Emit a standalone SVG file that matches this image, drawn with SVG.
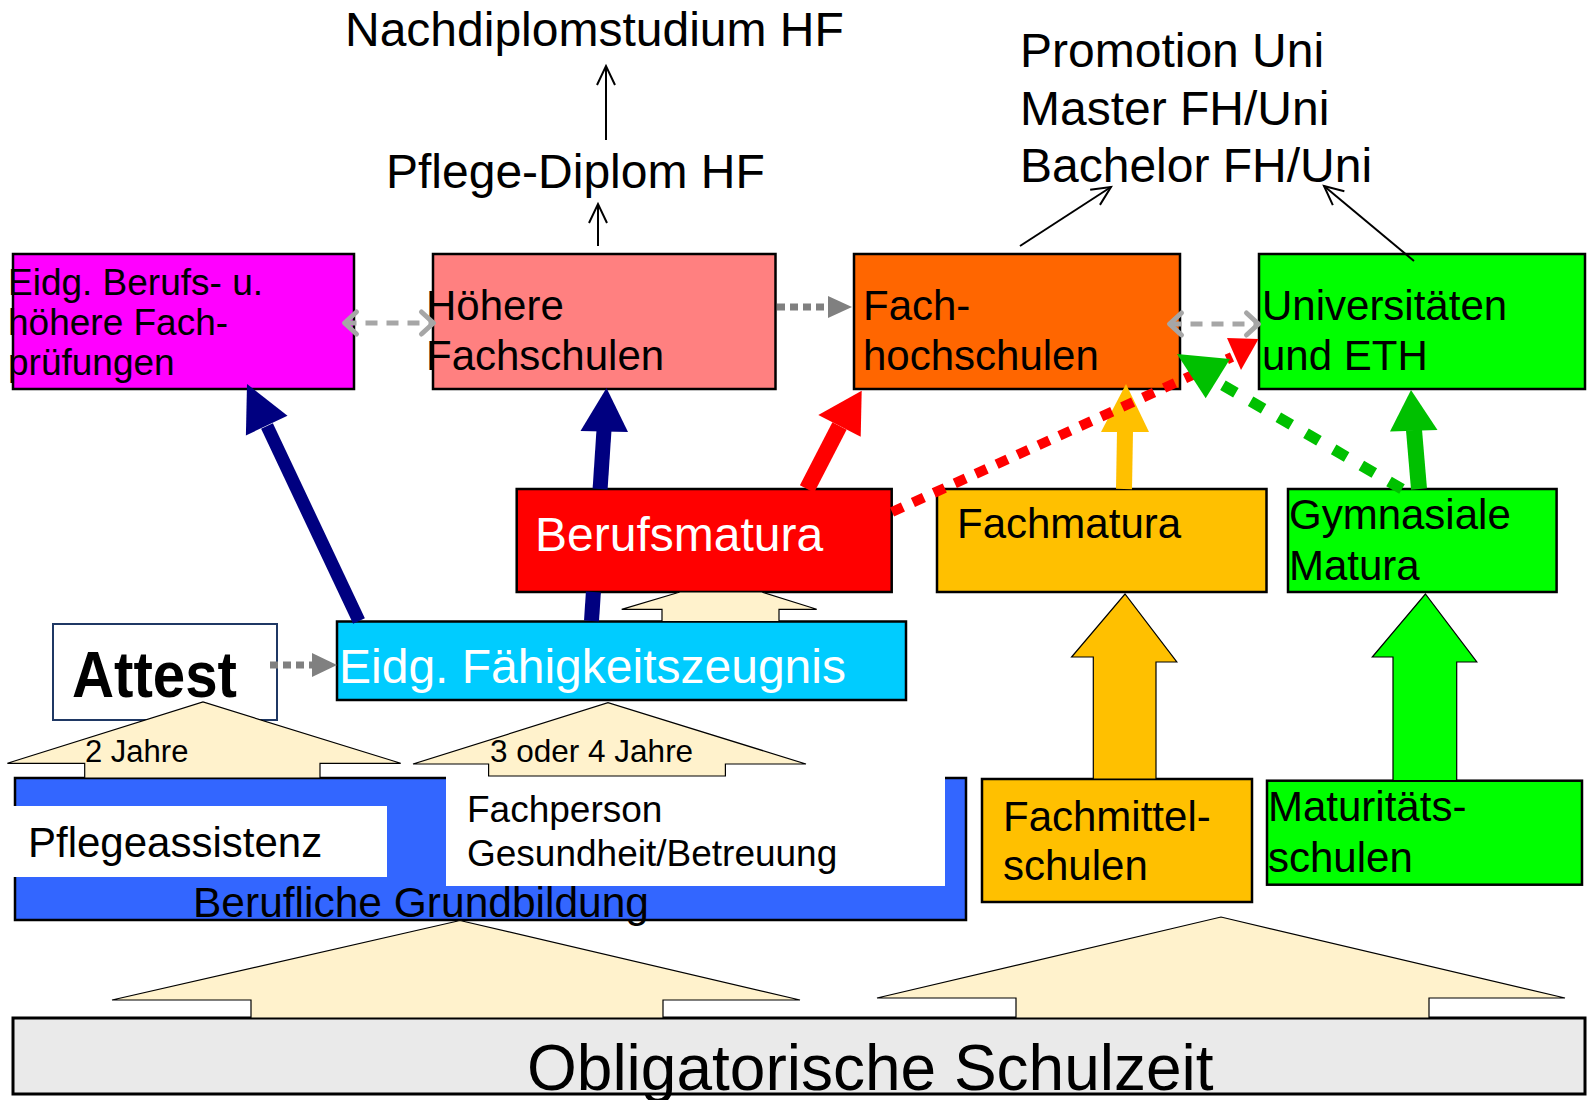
<svg xmlns="http://www.w3.org/2000/svg" width="1595" height="1100" viewBox="0 0 1595 1100">
<style>
text{font-family:"Liberation Sans",Arial,sans-serif;fill:#000}
.box{stroke:#000;stroke-width:2.5}
.cream{fill:#FFF2CC;stroke:#000;stroke-width:1.2}
.blk{stroke:#000;stroke-width:1.2}
.s31{font-size:31px}
.s37{font-size:37px}
.s42{font-size:42px}
.s48{font-size:48px}
.w{fill:#fff}
.thin{stroke:#000;stroke-width:2;fill:none}
.lg{stroke:#A6A6A6;stroke-width:5;stroke-dasharray:12 9;fill:none}
.dg{stroke:#808080;stroke-width:7;stroke-dasharray:8 5;fill:none}
</style>
<defs>
<marker id="open" markerUnits="userSpaceOnUse" markerWidth="30" markerHeight="30" refX="0" refY="0" orient="auto" overflow="visible">
<path d="M-19,-9 L0,0 L-19,9" fill="none" stroke="#000" stroke-width="2"/>
</marker>
<marker id="chev" markerUnits="userSpaceOnUse" markerWidth="30" markerHeight="30" refX="0" refY="0" orient="auto-start-reverse" overflow="visible">
<path d="M-12,-11 L0,0 L-12,11" fill="none" stroke="#A6A6A6" stroke-width="5" stroke-linecap="round" stroke-linejoin="round"/>
</marker>
</defs>

<g id="schulzeit">
<rect x="13" y="1018" width="1572" height="76" fill="#EAEAEA" stroke="#000" stroke-width="3"/>
<text x="527" y="1090" style="font-size:64px">Obligatorische Schulzeit</text>
</g>

<g id="grundbildung">
<rect x="15" y="778" width="951" height="142" fill="#3366FF" class="box"/>
<text x="193" y="917" style="font-size:42.5px">Berufliche Grundbildung</text>
</g>

<g id="pflegeassistenz">
<rect x="13" y="806" width="374" height="71" fill="#fff"/>
<text x="28" y="857" class="s42">Pflegeassistenz</text>
</g>

<g id="fachperson">
<rect x="446" y="776" width="499" height="110" fill="#fff"/>
<text x="467" y="822" class="s37">Fachperson</text>
<text x="467" y="866" class="s37">Gesundheit/Betreuung</text>
</g>

<g id="attest">
<rect x="53" y="624" width="224" height="96" fill="#fff" stroke="#1F3864" stroke-width="2"/>
<text x="72" y="697" style="font-size:64px;font-weight:bold" textLength="165" lengthAdjust="spacingAndGlyphs">Attest</text>
</g>

<g id="efz">
<rect x="337" y="621.5" width="569" height="78.5" fill="#00CCFF" class="box"/>
<text x="339" y="683" class="s48 w">Eidg. Fähigkeitszeugnis</text>
</g>

<g id="berufsmatura">
<rect x="516.7" y="489" width="375" height="103" fill="#FF0000" class="box"/>
<text x="535" y="551" class="s48 w">Berufsmatura</text>
</g>

<g id="fachmatura">
<rect x="937" y="489" width="329.5" height="103" fill="#FFC000" class="box"/>
<text x="957" y="538" class="s42">Fachmatura</text>
</g>

<g id="gymnasiale">
<rect x="1288" y="489" width="268.6" height="103" fill="#00FF00" class="box"/>
<text x="1289" y="529" class="s42">Gymnasiale</text>
<text x="1289" y="580" class="s42">Matura</text>
</g>

<g id="fachmittelschulen">
<rect x="982" y="779" width="270" height="123" fill="#FFC000" class="box"/>
<text x="1003" y="831" class="s42">Fachmittel-</text>
<text x="1003" y="880" class="s42">schulen</text>
</g>

<g id="maturitaetsschulen">
<rect x="1267" y="780.7" width="315" height="104" fill="#00FF00" class="box"/>
<text x="1268" y="821" class="s42">Maturitäts-</text>
<text x="1268" y="872" class="s42">schulen</text>
</g>

<g id="berufspruefungen">
<rect x="13" y="254" width="341" height="135" fill="#FF00FF" class="box"/>
<text x="8" y="295" class="s37">Eidg. Berufs- u.</text>
<text x="8" y="335" class="s37">höhere Fach-</text>
<text x="8" y="375" class="s37">prüfungen</text>
</g>

<g id="hoehere-fachschulen">
<rect x="433" y="254" width="342.5" height="135" fill="#FF8080" class="box"/>
<text x="426" y="320" class="s42">Höhere</text>
<text x="426" y="370" class="s42">Fachschulen</text>
</g>

<g id="fachhochschulen">
<rect x="854" y="254" width="326" height="135" fill="#FF6600" class="box"/>
<text x="863" y="320" class="s42">Fach-</text>
<text x="863" y="370" class="s42">hochschulen</text>
</g>

<g id="universitaeten">
<rect x="1259" y="254" width="326" height="135" fill="#00FF00" class="box"/>
<text x="1262" y="320" class="s42">Universitäten</text>
<text x="1262" y="370" class="s42">und ETH</text>
</g>

<g id="pflegediplom">
<text x="386" y="188" class="s48">Pflege-Diplom HF</text>
</g>

<g id="nachdiplom">
<text x="345" y="46" class="s48">Nachdiplomstudium HF</text>
</g>

<g id="abschluesse">
<text x="1020" y="67" class="s48">Promotion Uni</text>
<text x="1020" y="125" class="s48">Master FH/Uni</text>
<text x="1020" y="182" class="s48">Bachelor FH/Uni</text>
</g>

<g id="connectors">
<!-- cream block arrows -->
<polygon class="cream" points="251,1018 251,1000 112,1000 460,920.5 800,1000 663,1000 663,1018"/>
<polygon class="cream" points="1016,1018 1016,998 877,998 1221,917 1565,998 1429,998 1429,1018"/>
<polygon class="cream" points="84.7,778 84.7,763.3 7.4,763.3 203,702 400.7,763.3 320,763.3 320,778"/>
<polygon class="cream" points="488.6,776 488.6,764 413,764 608,702.7 806,764 725.4,764 725.4,776"/>
<polygon class="cream" points="662,621.5 662,609.3 621.7,609.3 680,592 761.7,592 816.7,609.3 779,609.3 779,621.5"/>
<text x="85" y="762" class="s31">2 Jahre</text>
<text x="490" y="762" style="font-size:31.5px">3 oder 4 Jahre</text>

<!-- coloured block arrows -->
<polygon class="blk" fill="#FFC000" points="1093.3,779 1093.3,657 1071.6,657 1125,594 1176.8,662 1156,662 1156,779"/>
<polygon class="blk" fill="#00FF00" points="1393,780.7 1393,657 1372.3,657 1425.4,594 1476.8,662 1456.7,662 1456.7,780.7"/>

<!-- navy arrows -->
<line x1="359" y1="621" x2="267" y2="426" stroke="#000080" stroke-width="13"/>
<polygon fill="#000080" points="247,384 245.9,435.4 287.5,415.8"/>
<line x1="591.5" y1="621" x2="593.4" y2="592" stroke="#000080" stroke-width="15"/>
<line x1="600.1" y1="489" x2="604" y2="430" stroke="#000080" stroke-width="15"/>
<polygon fill="#000080" points="606.5,388 580.5,431 628,432"/>

<!-- red arrow -->
<line x1="807" y1="489" x2="839.5" y2="426" stroke="#FF0000" stroke-width="16"/>
<polygon fill="#FF0000" points="861.7,390.7 818.3,415 860.7,436.7"/>

<!-- orange arrow -->
<line x1="1124" y1="489" x2="1125" y2="431" stroke="#FFC000" stroke-width="16"/>
<polygon fill="#FFC000" points="1126,384 1101,432 1149,432"/>

<!-- green arrow -->
<line x1="1419" y1="489" x2="1414" y2="430" stroke="#00C000" stroke-width="16"/>
<polygon fill="#00C000" points="1411,390 1390,431.5 1437.5,430"/>

<!-- red dotted -->
<line x1="892" y1="512" x2="1232" y2="357" stroke="#FF0000" stroke-width="10" stroke-dasharray="12 11"/>
<polygon fill="#FF0000" points="1227,338 1258.5,339 1241,370"/>

<!-- green dashed -->
<line x1="1402" y1="489" x2="1214" y2="380" stroke="#00C000" stroke-width="11" stroke-dasharray="15 17"/>
<polygon fill="#00C000" points="1177,354 1230,359 1205.7,398.3"/>

<!-- grey dotted -->
<line class="dg" x1="270" y1="665" x2="312" y2="665"/>
<polygon fill="#808080" points="337,665 312,653 312,677"/>
<line class="dg" x1="777" y1="307" x2="828" y2="307"/>
<polygon fill="#808080" points="852,307 828,296 828,318"/>

<!-- light grey double arrows -->
<line class="lg" x1="344.5" y1="323" x2="433.5" y2="323" marker-start="url(#chev)" marker-end="url(#chev)"/>
<line class="lg" x1="1169.5" y1="324" x2="1258.5" y2="324" marker-start="url(#chev)" marker-end="url(#chev)"/>

<!-- thin black arrows -->
<line class="thin" x1="606" y1="140" x2="606" y2="66" marker-end="url(#open)"/>
<line class="thin" x1="598" y1="246" x2="598" y2="204" marker-end="url(#open)"/>
<line class="thin" x1="1020" y1="246" x2="1111" y2="187" marker-end="url(#open)"/>
<line class="thin" x1="1414" y1="261" x2="1324" y2="186" marker-end="url(#open)"/>
</g>
</svg>
